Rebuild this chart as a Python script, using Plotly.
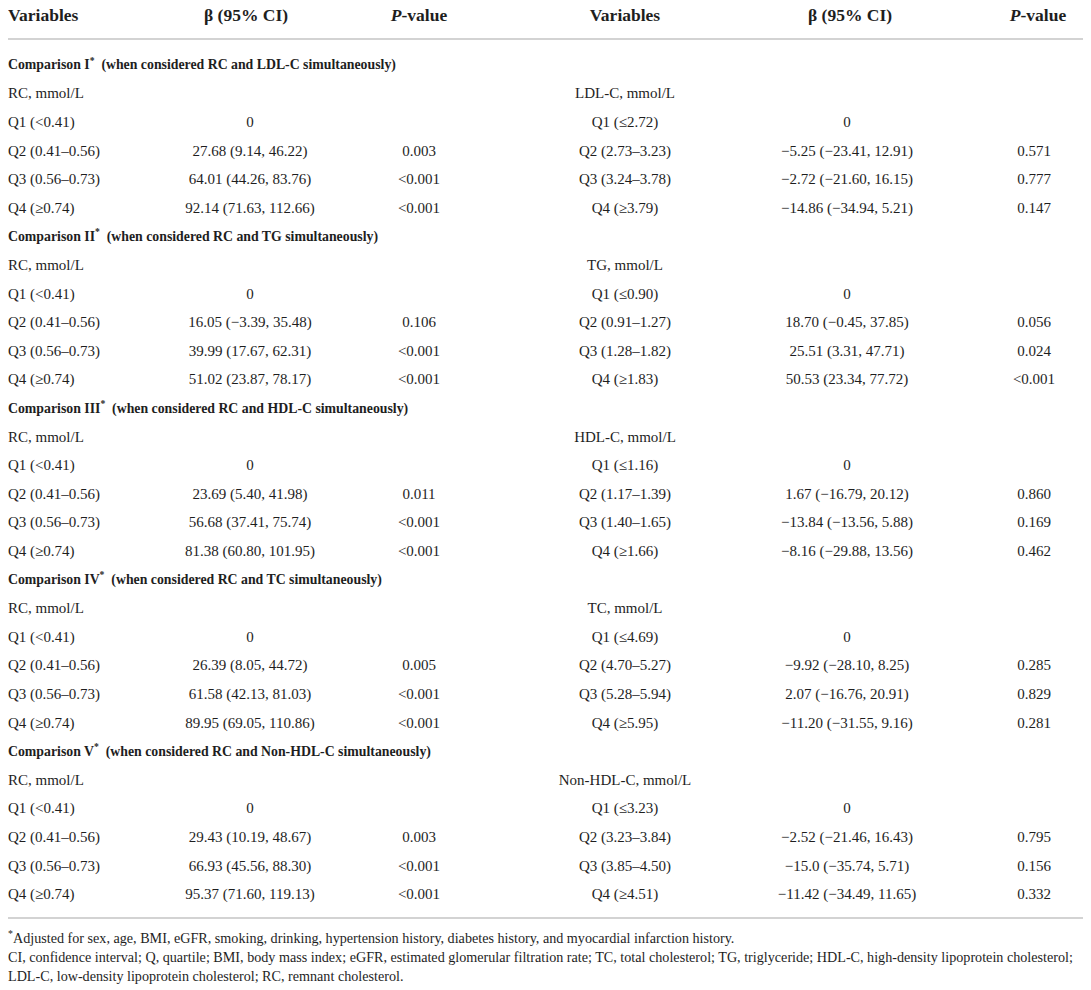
"""RC と他の脂質指標を同時投入した場合の β (95% CI) 表を Plotly で再現する。"""

import plotly.graph_objects as go

# ---------- データ ----------
COMPARISONS = ["I", "II", "III", "IV", "V"]
PARTNERS = ["LDL-C", "TG", "HDL-C", "TC", "Non-HDL-C"]

RC_Q = ["Q1 (<0.41)", "Q2 (0.41–0.56)", "Q3 (0.56–0.73)", "Q4 (≥0.74)"]
RC_BETA = [
    ["0", "27.68 (9.14, 46.22)", "64.01 (44.26, 83.76)", "92.14 (71.63, 112.66)"],
    ["0", "16.05 (−3.39, 35.48)", "39.99 (17.67, 62.31)", "51.02 (23.87, 78.17)"],
    ["0", "23.69 (5.40, 41.98)", "56.68 (37.41, 75.74)", "81.38 (60.80, 101.95)"],
    ["0", "26.39 (8.05, 44.72)", "61.58 (42.13, 81.03)", "89.95 (69.05, 110.86)"],
    ["0", "29.43 (10.19, 48.67)", "66.93 (45.56, 88.30)", "95.37 (71.60, 119.13)"],
]
RC_P = [
    ["", "0.003", "<0.001", "<0.001"],
    ["", "0.106", "<0.001", "<0.001"],
    ["", "0.011", "<0.001", "<0.001"],
    ["", "0.005", "<0.001", "<0.001"],
    ["", "0.003", "<0.001", "<0.001"],
]

PARTNER_Q = [
    ["Q1 (≤2.72)", "Q2 (2.73–3.23)", "Q3 (3.24–3.78)", "Q4 (≥3.79)"],
    ["Q1 (≤0.90)", "Q2 (0.91–1.27)", "Q3 (1.28–1.82)", "Q4 (≥1.83)"],
    ["Q1 (≤1.16)", "Q2 (1.17–1.39)", "Q3 (1.40–1.65)", "Q4 (≥1.66)"],
    ["Q1 (≤4.69)", "Q2 (4.70–5.27)", "Q3 (5.28–5.94)", "Q4 (≥5.95)"],
    ["Q1 (≤3.23)", "Q2 (3.23–3.84)", "Q3 (3.85–4.50)", "Q4 (≥4.51)"],
]
PARTNER_BETA = [
    ["0", "−5.25 (−23.41, 12.91)", "−2.72 (−21.60, 16.15)", "−14.86 (−34.94, 5.21)"],
    ["0", "18.70 (−0.45, 37.85)", "25.51 (3.31, 47.71)", "50.53 (23.34, 77.72)"],
    ["0", "1.67 (−16.79, 20.12)", "−13.84 (−13.56, 5.88)", "−8.16 (−29.88, 13.56)"],
    ["0", "−9.92 (−28.10, 8.25)", "2.07 (−16.76, 20.91)", "−11.20 (−31.55, 9.16)"],
    ["0", "−2.52 (−21.46, 16.43)", "−15.0 (−35.74, 5.71)", "−11.42 (−34.49, 11.65)"],
]
PARTNER_P = [
    ["", "0.571", "0.777", "0.147"],
    ["", "0.056", "0.024", "<0.001"],
    ["", "0.860", "0.169", "0.462"],
    ["", "0.285", "0.829", "0.281"],
    ["", "0.795", "0.156", "0.332"],
]

HEADERS = ["Variables", "β (95% CI)", "<i>P</i>-value"]
FOOTNOTES = [
    "<sup>*</sup>Adjusted for sex, age, BMI, eGFR, smoking, drinking, hypertension history, "
    "diabetes history, and myocardial infarction history.",
    "CI, confidence interval; Q, quartile; BMI, body mass index; eGFR, estimated glomerular "
    "filtration rate; TC, total cholesterol; TG, triglyceride; HDL-C, high-density lipoprotein cholesterol;",
    "LDL-C, low-density lipoprotein cholesterol; RC, remnant cholesterol.",
]

# ---------- レイアウト設定 ----------
# ページ本体の余白 (8px) を差し引き、座標 = 画面ピクセルになるようにする
PAGE_PAD = 8
W, H = 1091, 990
FONT = "Liberation Serif, Times New Roman, serif"
INK = "#1e1e1e"
RULE = "#c4c4c4"

X_VAR_L, X_BETA_L, X_P_L = PAGE_PAD, 250, 419
X_VAR_R, X_BETA_R, X_P_R = 625, 847, 1034
X_HEAD_BETA_L, X_HEAD_BETA_R, X_HEAD_P_R = 246, 850, 1038

Y_HEAD = 17
Y_RULE_TOP = 39
Y_FIRST = 66
ROW_STEP = 28.6
Y_RULE_BOTTOM = 918
Y_FOOT = [939, 958, 977]

SIZE_BODY = 15
SIZE_BOLD = 13.8
SIZE_HEAD = 17.5
SIZE_FOOT = 14.15

# ---------- 行を組み立て ----------
left_var = {"x": [], "y": [], "t": []}
centered = {"x": [], "y": [], "t": []}
bold_rows = {"x": [], "y": [], "t": []}

row = 0
for i, comp in enumerate(COMPARISONS):
    y = Y_FIRST + row * ROW_STEP
    bold_rows["x"].append(X_VAR_L)
    bold_rows["y"].append(y)
    bold_rows["t"].append(
        f"Comparison {comp}<sup>*</sup>  (when considered RC and {PARTNERS[i]} simultaneously)"
    )
    row += 1

    y = Y_FIRST + row * ROW_STEP
    left_var["x"].append(X_VAR_L)
    left_var["y"].append(y)
    left_var["t"].append("RC, mmol/L")
    centered["x"].append(X_VAR_R)
    centered["y"].append(y)
    centered["t"].append(f"{PARTNERS[i]}, mmol/L")
    row += 1

    for q in range(4):
        y = Y_FIRST + row * ROW_STEP
        left_var["x"].append(X_VAR_L)
        left_var["y"].append(y)
        left_var["t"].append(RC_Q[q])
        for x, t in [
            (X_BETA_L, RC_BETA[i][q]),
            (X_P_L, RC_P[i][q]),
            (X_VAR_R, PARTNER_Q[i][q]),
            (X_BETA_R, PARTNER_BETA[i][q]),
            (X_P_R, PARTNER_P[i][q]),
        ]:
            if t:
                centered["x"].append(x)
                centered["y"].append(y)
                centered["t"].append(t)
        row += 1

fig = go.Figure()


def add_text(d, position, size, bold=False):
    texts = [f"<b>{t}</b>" if bold else t for t in d["t"]]
    fig.add_trace(go.Scatter(
        x=d["x"], y=d["y"], text=texts, mode="text",
        textposition=position,
        textfont=dict(family=FONT, size=size, color=INK),
        cliponaxis=False,
        hoverinfo="skip", showlegend=False,
    ))


# ヘッダー
head_left = {"x": [X_VAR_L], "y": [Y_HEAD], "t": [HEADERS[0]]}
head_center = {
    "x": [X_HEAD_BETA_L, X_P_L, X_VAR_R, X_HEAD_BETA_R, X_HEAD_P_R],
    "y": [Y_HEAD] * 5,
    "t": [HEADERS[1], HEADERS[2], HEADERS[0], HEADERS[1], HEADERS[2]],
}
add_text(head_left, "middle right", SIZE_HEAD, bold=True)
add_text(head_center, "middle center", SIZE_HEAD, bold=True)

add_text(bold_rows, "middle right", SIZE_BOLD, bold=True)
add_text(left_var, "middle right", SIZE_BODY)
add_text(centered, "middle center", SIZE_BODY)

foot = {"x": [X_VAR_L] * 3, "y": Y_FOOT, "t": FOOTNOTES}
add_text(foot, "middle right", SIZE_FOOT)

# 罫線
for y in (Y_RULE_TOP, Y_RULE_BOTTOM):
    fig.add_shape(type="line", xref="x", yref="y", x0=PAGE_PAD, x1=W, y0=y, y1=y,
                  line=dict(color=RULE, width=1.5))

fig.update_xaxes(range=[PAGE_PAD, W], visible=False, fixedrange=True)
fig.update_yaxes(range=[H, PAGE_PAD], visible=False, fixedrange=True)
fig.update_layout(
    width=W - PAGE_PAD, height=H - PAGE_PAD,
    margin=dict(l=0, r=0, t=0, b=0),
    plot_bgcolor="#ffffff",
    paper_bgcolor="#ffffff",
    font=dict(family=FONT, color=INK),
)

fig.write_html("out.html")
